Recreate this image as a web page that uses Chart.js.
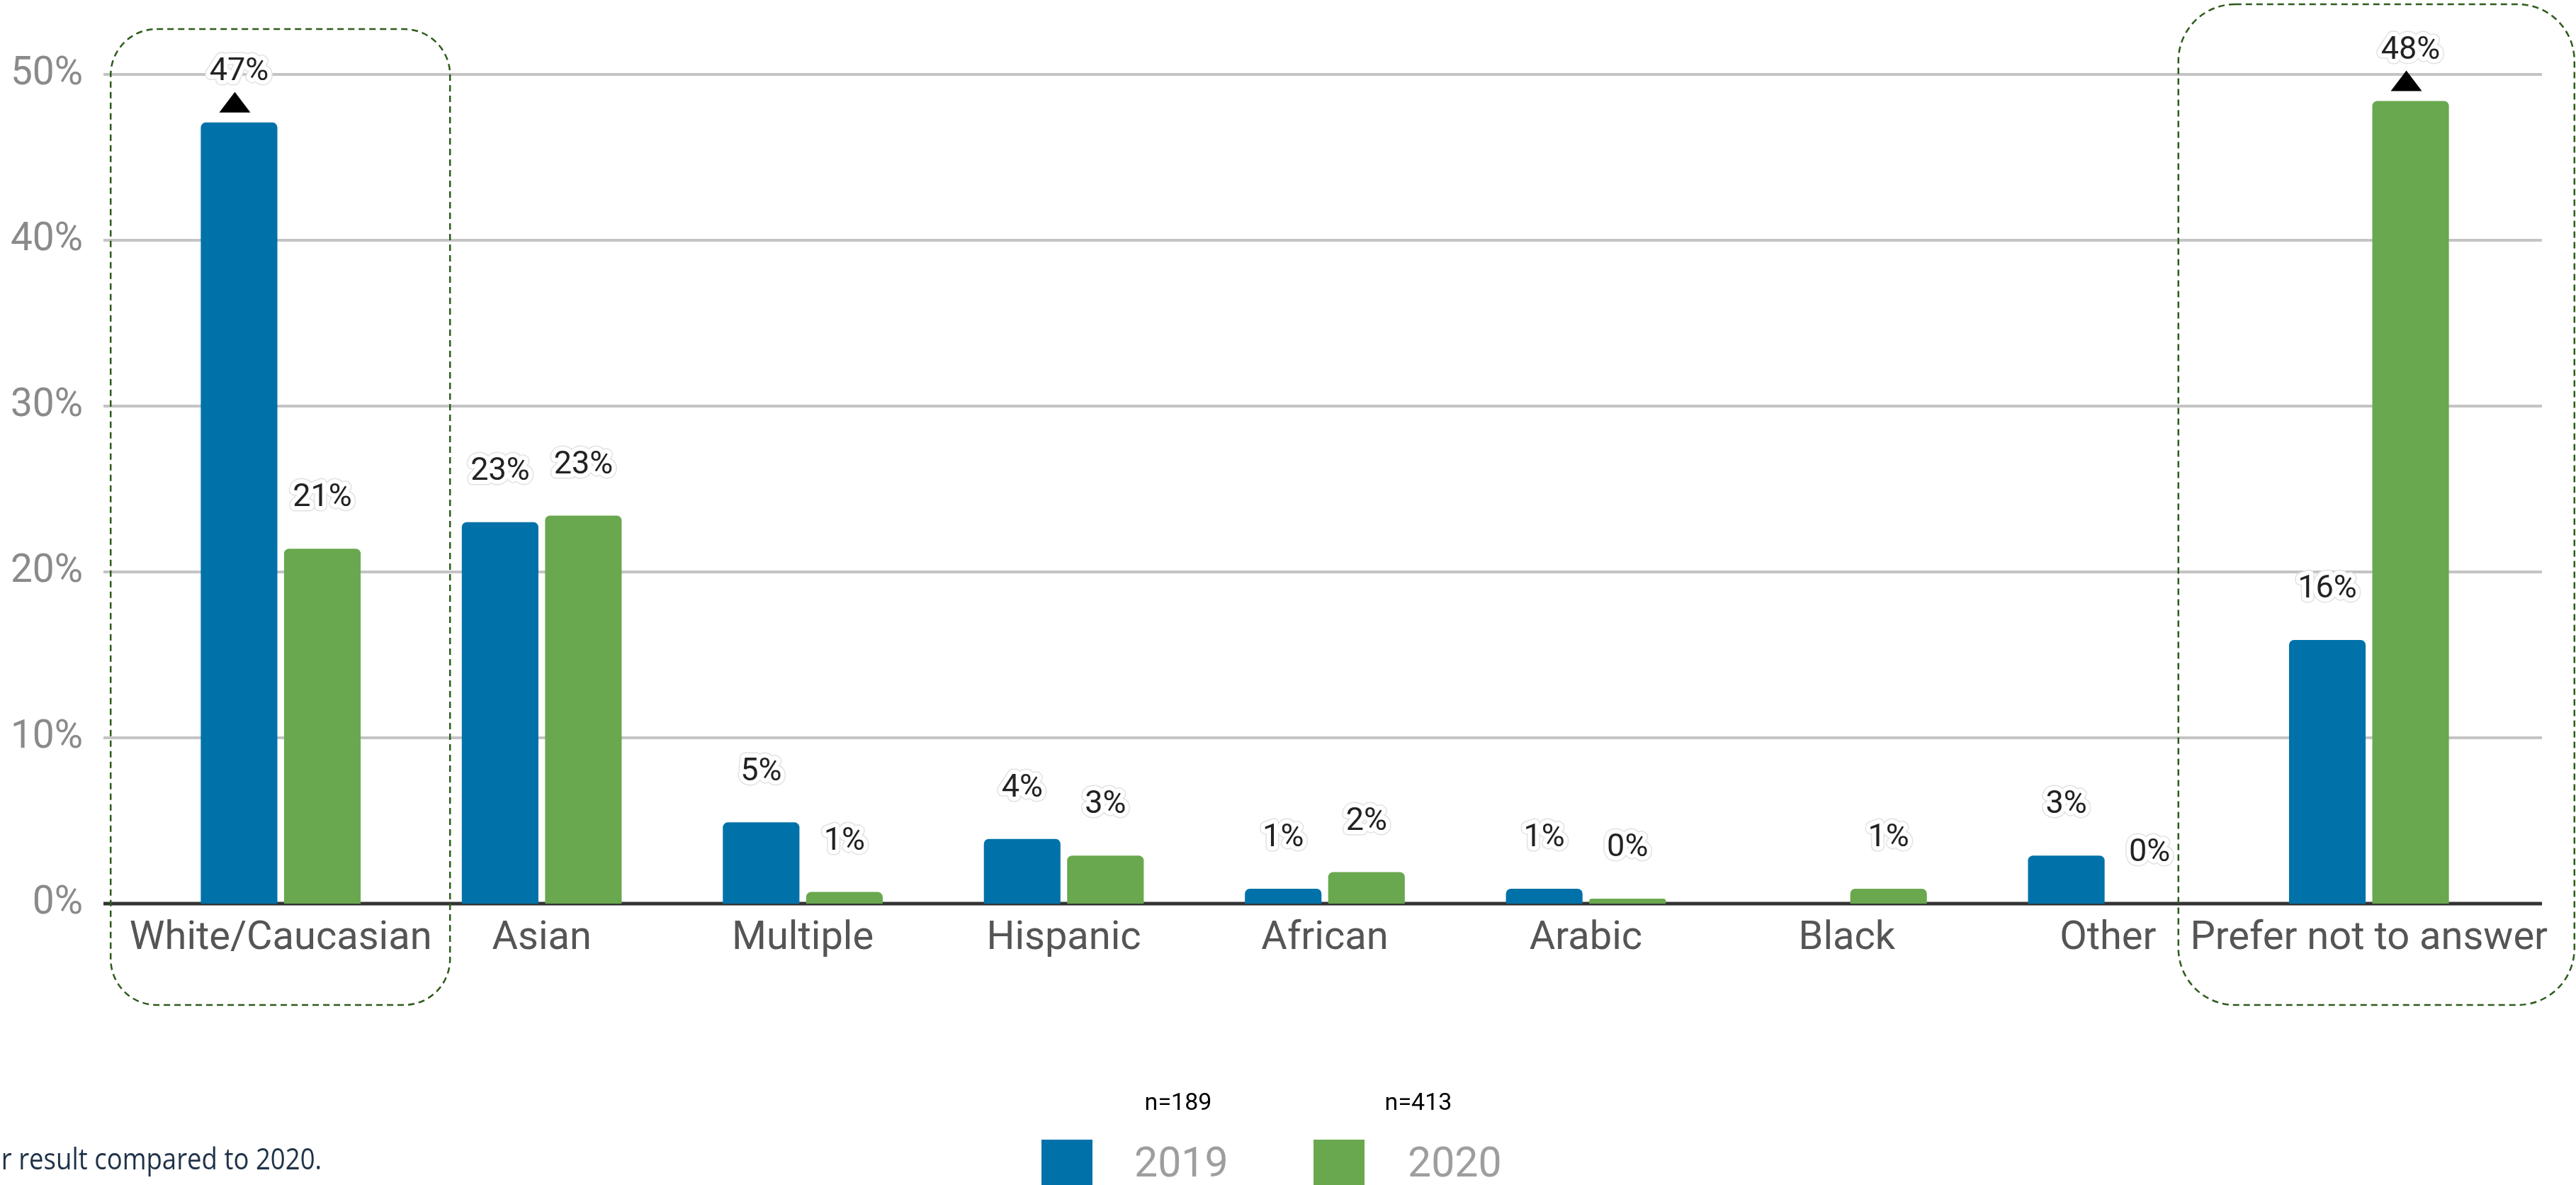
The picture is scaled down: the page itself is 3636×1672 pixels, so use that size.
<!DOCTYPE html>
<html>
<head>
<meta charset="utf-8">
<script src="https://cdn.jsdelivr.net/npm/chart.js"></script>
<style>
  html, body { margin: 0; padding: 0; background: #fff; overflow: hidden; }
  canvas { display: block; }
</style>
</head>
<body>
<canvas id="ethnicityChart" width="3636" height="1672"></canvas>
<script>
// data
const categories = ["White/Caucasian", "Asian", "Multiple", "Hispanic", "African", "Arabic", "Black", "Other", "Prefer not to answer"];
const values2019 = [47.1, 23.0, 4.9, 3.9, 0.9, 0.9, null, 2.9, 15.9];
const values2020 = [21.4, 23.4, 0.7, 2.9, 1.9, 0.3, 0.9, 0, 48.4];
const seriesNames = ["2019", "2020"];
const sampleSizes = ["n=189", "n=413"];
const yTickValues = [0, 10, 20, 30, 40, 50];
// [datasetIndex, categoryIndex] of the bars flagged with a triangle
const flagged = [[0, 0], [1, 8]];
// categories wrapped in a dashed box
const boxed = [0, 8];
const footnote = "r result compared to 2020.";

const blue = "#0072a9";
const green = "#69a84e";

const gridPlugin = {
    id: "grid",
    beforeDatasetsDraw(chart) {
        const ctx = chart.ctx;
        const y = chart.scales.y;
        ctx.save();
        yTickValues.forEach(v => {
            const py = y.getPixelForValue(v);
            ctx.beginPath();
            ctx.moveTo(146, py);
            ctx.lineTo(3588, py);
            ctx.lineWidth = v === 0 ? 5 : 4;
            ctx.strokeStyle = v === 0 ? "#333333" : "#c4c4c4";
            ctx.stroke();
        });
        ctx.restore();
    }
};

const labelPlugin = {
    id: "valueLabels",
    afterDatasetsDraw(chart) {
        const ctx = chart.ctx;
        ctx.save();
        ctx.font = "45px Roboto";
        ctx.textAlign = "center";
        ctx.textBaseline = "middle";
        ctx.lineJoin = "round";
        chart.data.datasets.forEach((ds, di) => {
            const meta = chart.getDatasetMeta(di);
            ds.data.forEach((v, i) => {
                if (v === null) return;
                const el = meta.data[i];
                const txt = Math.round(v) + "%";
                const ty = el.y - 71;
                ctx.strokeStyle = "#e2e2e2";
                ctx.lineWidth = 15;
                ctx.strokeText(txt, el.x, ty);
                ctx.strokeStyle = "#ffffff";
                ctx.lineWidth = 12;
                ctx.strokeText(txt, el.x, ty);
                ctx.fillStyle = "#222222";
                ctx.fillText(txt, el.x, ty);
            });
        });
        // triangles
        flagged.forEach(([di, i]) => {
            const el = chart.getDatasetMeta(di).data[i];
            const cx = el.x - 6;
            ctx.beginPath();
            ctx.moveTo(cx, el.y - 43);
            ctx.lineTo(cx + 22, el.y - 14);
            ctx.lineTo(cx - 22, el.y - 14);
            ctx.closePath();
            ctx.fillStyle = "#000";
            ctx.fill();
        });
        ctx.restore();
    }
};

const decorPlugin = {
    id: "decor",
    afterDraw(chart) {
        const ctx = chart.ctx;
        const x = chart.scales.x;
        ctx.save();
        // dashed boxes
        ctx.setLineDash([9, 6]);
        ctx.lineWidth = 2.5;
        ctx.strokeStyle = "#2e5b1c";
        const boxes = [
            { l: -240, r: 239, t: 41, b: 1418, rad: 65 },
            { l: -269, r: 290, t: 6, b: 1418, rad: 80 }
        ];
        boxed.forEach((ci, k) => {
            const cx = x.getPixelForValue(ci);
            const bx = boxes[k];
            ctx.beginPath();
            ctx.roundRect(cx + bx.l, bx.t, bx.r - bx.l, bx.b - bx.t, bx.rad);
            ctx.stroke();
        });
        ctx.setLineDash([]);

        // legend
        const colors = [blue, green];
        const squareX = [1470, 1854];
        const nX = [1663, 2002];
        const textX = [1601, 1987];
        seriesNames.forEach((name, k) => {
            ctx.fillStyle = colors[k];
            ctx.fillRect(squareX[k], 1608, 72, 72);
            ctx.font = "34px Roboto";
            ctx.fillStyle = "#000";
            ctx.textAlign = "center";
            ctx.textBaseline = "middle";
            ctx.fillText(sampleSizes[k], nX[k], 1557);
            ctx.font = "59px Roboto";
            ctx.fillStyle = "#9e9e9e";
            ctx.textAlign = "left";
            ctx.textBaseline = "alphabetic";
            ctx.fillText(name, textX[k], 1660);
        });

        // footnote (cut off at the left edge in the original)
        ctx.save();
        ctx.scale(0.87, 1);
        ctx.font = "42px 'Open Sans'";
        ctx.fillStyle = "#1f3349";
        ctx.textAlign = "left";
        ctx.textBaseline = "alphabetic";
        ctx.fillText(footnote, 2, 1650);
        ctx.restore();
        ctx.restore();
    }
};

new Chart(document.getElementById("ethnicityChart"), {
    type: "bar",
    data: {
        labels: categories,
        datasets: [{
            label: seriesNames[0],
            data: values2019,
            backgroundColor: blue,
            borderRadius: 7,
            categoryPercentage: 0.638,
            barPercentage: 0.92
        }, {
            label: seriesNames[1],
            data: values2020,
            backgroundColor: green,
            borderRadius: 7,
            categoryPercentage: 0.638,
            barPercentage: 0.92
        }]
    },
    options: {
        responsive: false,
        animation: false,
        devicePixelRatio: 1,
        layout: { padding: { top: 105, right: 108, left: 0, bottom: 0 } },
        plugins: { legend: { display: false }, tooltip: { enabled: false } },
        scales: {
            x: {
                grid: { display: false, drawTicks: false },
                border: { display: false },
                ticks: {
                    font: { family: "Roboto", size: 56 },
                    color: "#555555",
                    padding: 16,
                    maxRotation: 0,
                    autoSkip: false
                },
                afterFit(scale) { scale.height = 397; }
            },
            y: {
                min: 0,
                max: 50,
                grid: { display: false, drawTicks: false },
                border: { display: false },
                ticks: {
                    stepSize: 10,
                    font: { family: "Roboto", size: 55 },
                    color: "#8a8a8a",
                    padding: 95,
                    callback: v => v + "%"
                },
                afterFit(scale) {
                    // keep the top/bottom tick labels from pushing the plot area in
                    scale.width = 212;
                    scale.paddingTop = 0;
                    scale.paddingBottom = 0;
                }
            }
        }
    },
    plugins: [gridPlugin, labelPlugin, decorPlugin]
});
</script>
</body>
</html>
